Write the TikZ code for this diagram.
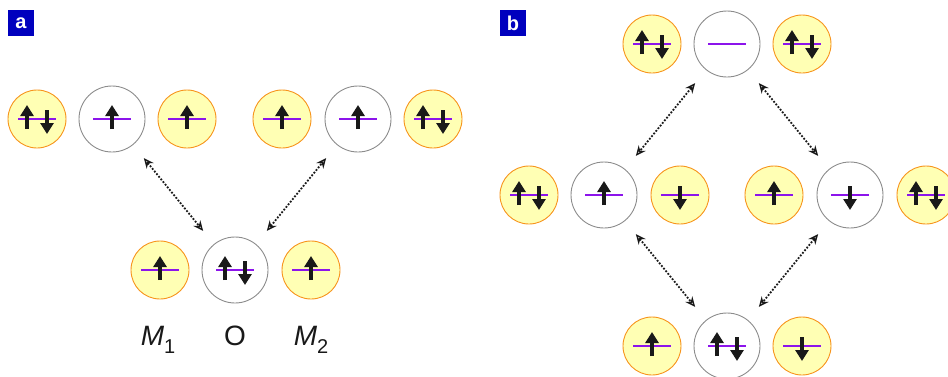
\documentclass[tikz,border=0pt]{standalone}
\usepackage{fontspec}
\setmainfont{Liberation Sans}
\usetikzlibrary{arrows.meta,calc}
\definecolor{yfill}{RGB}{255,255,180}
\definecolor{yedge}{RGB}{247,148,29}
\definecolor{wedge}{RGB}{140,140,140}
\definecolor{lvcol}{RGB}{140,20,235}
\definecolor{labblue}{RGB}{0,0,190}
\definecolor{spincol}{RGB}{25,25,25}
\tikzset{
  yel/.style={circle, draw=yedge, fill=yfill, line width=0.9pt, minimum size=58pt, inner sep=0pt},
  wht/.style={circle, draw=wedge, fill=white, line width=0.9pt, minimum size=66pt, inner sep=0pt},
  lvl/.style={draw=lvcol, line width=1.3pt},
  spin/.style={draw=spincol, line width=3.6pt, -{Triangle[length=11pt,width=13pt]}},
  conn/.style={line width=1.8pt, dash pattern=on 1.8pt off 1.6pt, draw=spincol,
    {Stealth[open,length=10pt,width=9pt,line width=1.4pt]}-{Stealth[open,length=10pt,width=9pt,line width=1.4pt]},
    shorten <=17pt, shorten >=17pt},
  lab/.style={fill=labblue, text=white, minimum size=26pt, inner sep=0pt, font=\fontsize{20}{20}\selectfont\bfseries},
  ml/.style={anchor=base, font=\fontsize{28}{28}\selectfont, text=spincol}
}
\newcommand\lv[1]{\draw[lvl] ($(#1)+(-19,0)$) -- ($(#1)+(19,0)$);}
\newcommand\su[2]{\draw[spin] ($(#1)+(#2,10)$) -- ($(#1)+(#2,-14)$);}
\newcommand\sd[2]{\draw[spin] ($(#1)+(#2,-9)$) -- ($(#1)+(#2,15)$);}
\newcommand\pair[1]{\lv{#1}\su{#1}{-10}\sd{#1}{10}}
\newcommand\one[1]{\lv{#1}\su{#1}{0}}
\newcommand\dn[1]{\lv{#1}\sd{#1}{0}}
\begin{document}
\begin{tikzpicture}[x=1pt,y=-1pt]
\useasboundingbox (0,0) rectangle (948,376);
\clip (0,0) rectangle (948,376);
% labels
\node[lab] (la) at (21,23) {a};
\node[lab] (lb) at (513,23) {b};
% panel a
\node[yel] (a1) at (37,119) {};
\node[wht] (a2) at (112,119) {};
\node[yel] (a3) at (187,119) {};
\node[yel] (a4) at (282,119) {};
\node[wht] (a5) at (358,119) {};
\node[yel] (a6) at (433,119) {};
\node[yel] (a7) at (160,270) {};
\node[wht] (a8) at (235,270) {};
\node[yel] (a9) at (311,270) {};
\pair{a1}\one{a2}\one{a3}\one{a4}\one{a5}\pair{a6}
\one{a7}\pair{a8}\one{a9}
\draw[conn] (a2) -- (a8);
\draw[conn] (a8) -- (a5);
\node[ml] (m1) at (158,345) {\textit{M}\raisebox{-8pt}{\fontsize{20}{20}\selectfont 1}};
\node[ml] (mo) at (235,345) {O};
\node[ml] (m2) at (311,345) {\textit{M}\raisebox{-8pt}{\fontsize{20}{20}\selectfont 2}};
% panel b
\node[yel] (b1) at (652,44) {};
\node[wht] (b2) at (727,44) {};
\node[yel] (b3) at (802,44) {};
\node[yel] (b4) at (529,195) {};
\node[wht] (b5) at (604,195) {};
\node[yel] (b6) at (680,195) {};
\node[yel] (b7) at (774,195) {};
\node[wht] (b8) at (850,195) {};
\node[yel] (b9) at (926,195) {};
\node[yel] (b10) at (652,346) {};
\node[wht] (b11) at (727,346) {};
\node[yel] (b12) at (802,346) {};
\pair{b1}\lv{b2}\pair{b3}
\pair{b4}\one{b5}\dn{b6}
\one{b7}\dn{b8}\pair{b9}
\one{b10}\pair{b11}\dn{b12}
\draw[conn] (b2) -- (b5);
\draw[conn] (b2) -- (b8);
\draw[conn] (b5) -- (b11);
\draw[conn] (b8) -- (b11);
\end{tikzpicture}
\end{document}
